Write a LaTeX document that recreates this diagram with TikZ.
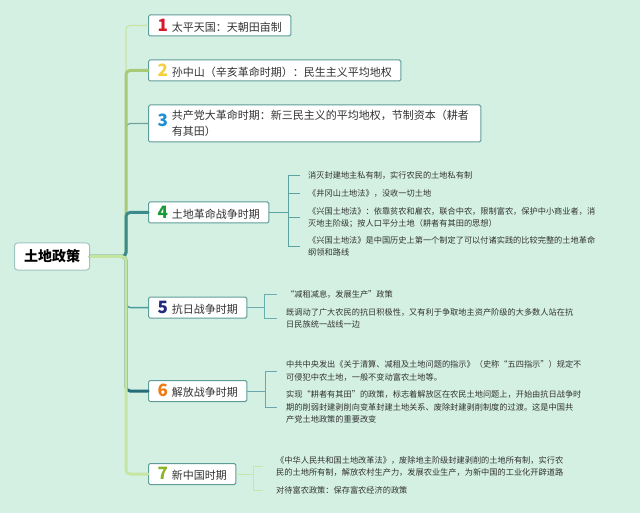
\documentclass[tikz,border=0pt]{standalone}
\usepackage{fontspec}
\setmainfont{Noto Sans CJK SC}
\definecolor{bg}{HTML}{D4F0E3}
\definecolor{txt}{HTML}{333333}
\definecolor{boxline}{HTML}{5E9C98}
\definecolor{br1}{HTML}{C9E4A6}
\definecolor{br2}{HTML}{A7C978}
\definecolor{br3}{HTML}{6DA596}
\definecolor{br4}{HTML}{3C8B8B}
\definecolor{br5}{HTML}{4D9C9C}
\definecolor{br6}{HTML}{246C78}
\definecolor{br7}{HTML}{C4E6A0}
\definecolor{tw4}{HTML}{5BA3A0}
\definecolor{tw5}{HTML}{6AAFAF}
\definecolor{tw6}{HTML}{6AA6B0}
\definecolor{tw7}{HTML}{C4E6A8}
\definecolor{d1}{HTML}{D7182A}
\definecolor{d2}{HTML}{F4D03F}
\definecolor{d3}{HTML}{1E8FD5}
\definecolor{d4}{HTML}{1C9A3A}
\definecolor{d5}{HTML}{1F2A7A}
\definecolor{d6}{HTML}{F07A12}
\definecolor{d7}{HTML}{8AB525}
\tikzset{
  root/.style={draw=boxline!60, fill=white, rounded corners=3pt, line width=1pt,
    minimum width=75pt, minimum height=27pt, text=black,
    font=\fontsize{14}{16}\selectfont\bfseries},
  topic/.style={draw=boxline, fill=white, rounded corners=1.5pt, line width=1pt,
    minimum height=21pt, inner xsep=9pt, anchor=west, text=txt,
    font=\fontsize{11}{15.5}\selectfont},
  note/.style={anchor=west, align=left, text=txt, inner sep=0pt,
    font=\fontsize{8.2}{12.2}\selectfont},
  bough/.style={rounded corners=4pt, line cap=round},
  twig/.style={line width=0.9pt},
}
\newcommand{\nr}[2]{{\fontsize{17}{17}\selectfont\bfseries\color{#1}#2}\hspace{4pt}}
\begin{document}
\begin{tikzpicture}[x=1pt,y=-1pt]
                \useasboundingbox[fill=bg] (0,0) rectangle (640,513);

                \node[root] at (52,256.5) (root) {土地政策};

                \node[topic] at (148,25.5) (n1) {\nr{d1}{1}太平天国：天朝田亩制};
                \node[topic] at (148,70.5) (n2) {\nr{d2}{2}孙中山（辛亥革命时期）：民生主义平均地权};
                \node[topic, minimum height=37pt] at (148,123.5) (n3) {\nr{d3}{3}\parbox[c]{300pt}{共产党大革命时期：新三民主义的平均地权，节制资本（耕者\\有其田）}};
                \node[topic] at (148,212.5) (n4) {\nr{d4}{4}土地革命战争时期};
                \node[topic] at (148,307.5) (n5) {\nr{d5}{5}抗日战争时期};
                \node[topic] at (148,391) (n6) {\nr{d6}{6}解放战争时期};
                \node[topic] at (148,474) (n7) {\nr{d7}{7}新中国时期};

                \draw[bough, br1, line width=1.2pt] (root.east) -- ++(36,0) |- (n1.west);
                \draw[bough, br3, line width=1.2pt] (root.east) -- ++(36,0) |- (n3.west);
                \draw[bough, br2, line width=3pt] (root.east) -- ++(36,0) |- (n2.west);
                \draw[bough, br4, line width=3pt] (root.east) -- ++(36,0) |- (n4.west);
                \draw[bough, br5, line width=1.5pt] (root.east) -- ++(36,0) |- (n5.west);
                \draw[bough, br6, line width=3pt] (root.east) -- ++(36,0) |- (n6.west);
                \draw[bough, br7, line width=3pt] (root.east) -- ++(36,0) |- (n7.west);

                \node[note] at (308,175) (i41) {消灭封建地主私有制，实行农民的土地私有制};
                \node[note] at (308,193) (i42) {《井冈山土地法》，没收一切土地};
                \node[note] at (308,217.5) (i43) {《兴国土地法》：依靠贫农和雇农，联合中农，限制富农，保护中小商业者，消\\灭地主阶级；按人口平分土地（耕者有其田的思想）};
                \node[note] at (308,246.5) (i44) {《兴国土地法》是中国历史上第一个制定了可以付诸实践的比较完整的土地革命\\纲领和路线};
                \foreach \i in {1,...,4}
                  \draw[twig, tw4] (n4.east) -- ++(19,0) |- ([xshift=-8pt]i4\i.west);

                \node[note] at (286,294) (i51) {“减租减息，发展生产”政策};
                \node[note] at (286,318) (i52) {既调动了广大农民的抗日积极性，又有利于争取地主资产阶级的大多数人站在抗\\日民族统一战线一边};
                \foreach \i in {1,2}
                  \draw[twig, tw5] (n5.east) -- ++(17,0) |- ([xshift=-9pt]i5\i.west);

                \node[note] at (286,371) (i61) {中共中央发出《关于清算、减租及土地问题的指示》（史称“五四指示”）规定不\\可侵犯中农土地，一般不变动富农土地等。};
                \node[note] at (286,407) (i62) {实现“耕者有其田”的政策，标志着解放区在农民土地问题上，开始由抗日战争时\\期的削弱封建剥削向变革封建土地关系、废除封建剥削制度的过渡。这是中国共\\产党土地政策的重要改变};
                \foreach \i in {1,2}
                  \draw[twig, tw6] (n6.east) -- ++(18,0) |- ([xshift=-9pt]i6\i.west);

                \node[note] at (276,466.5) (i71) {《中华人民共和国土地改革法》，废除地主阶级封建剥削的土地所有制，实行农\\民的土地所有制，解放农村生产力，发展农业生产，为新中国的工业化开辟道路};
                \node[note] at (276,490) (i72) {对待富农政策：保存富农经济的政策};
                \foreach \i in {1,2}
                  \draw[twig, tw7] (n7.east) -- ++(17,0) |- ([xshift=-13pt]i7\i.west);
            \end{tikzpicture}
\end{document}
